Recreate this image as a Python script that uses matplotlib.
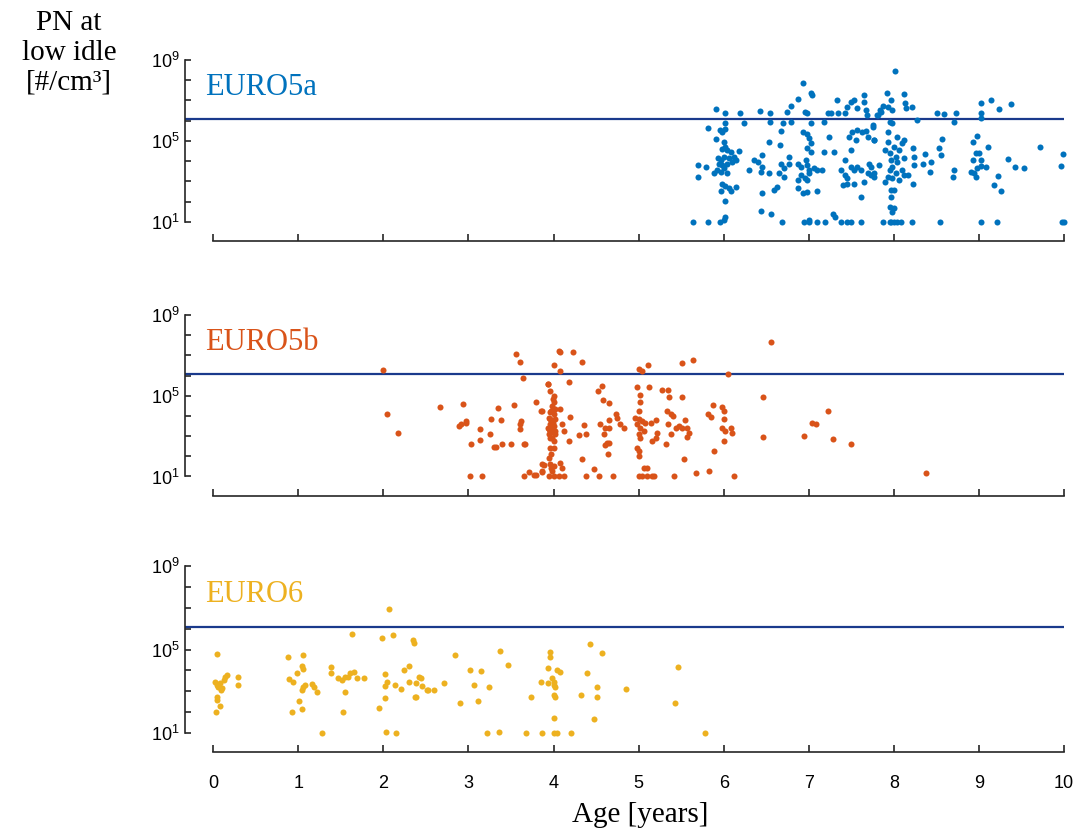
import matplotlib.pyplot as plt
import numpy as np
from matplotlib.ticker import FixedLocator, FuncFormatter, NullLocator

# (age [years], log10 of PN at low idle [#/cm3])
euro5a = [
    (5.64, 1.0), (5.81, 1.0), (5.96, 1.0), (6.0, 1.08), (6.02, 1.21), (6.69, 1.0),
    (6.94, 1.0), (7.0, 1.11), (7.0, 1.0), (7.1, 1.0), (7.19, 1.0), (7.28, 1.38),
    (7.31, 1.24), (7.38, 1.0), (7.45, 1.0), (7.5, 1.0), (7.61, 1.0), (6.44, 1.52),
    (6.56, 1.38), (5.91, 6.56), (6.02, 6.36), (6.02, 5.86), (5.82, 5.62), (5.95, 5.53),
    (5.98, 5.45), (6.02, 5.57), (6.0, 4.96), (6.02, 4.71), (5.98, 4.58), (6.04, 4.54),
    (6.08, 4.46), (6.18, 4.51), (5.93, 4.13), (5.97, 4.05), (6.0, 4.21), (6.06, 4.13),
    (6.12, 4.21), (6.14, 4.05), (5.94, 3.88), (5.98, 3.8), (6.04, 3.88), (6.1, 3.97),
    (5.92, 3.55), (5.97, 3.47), (6.0, 3.64), (6.04, 3.39), (5.89, 3.39), (5.7, 3.83),
    (5.79, 3.69), (5.7, 3.22), (5.98, 2.89), (6.02, 2.76), (6.06, 2.65), (6.14, 2.7),
    (5.97, 2.53), (6.08, 2.53), (6.02, 2.02), (6.19, 6.36), (6.24, 5.86), (6.42, 6.48),
    (6.54, 6.36), (6.54, 5.95), (6.53, 4.96), (6.66, 4.79), (6.67, 5.49), (6.7, 5.86),
    (6.74, 6.44), (6.79, 6.72), (6.79, 5.95), (6.87, 7.05), (6.93, 7.88), (7.02, 7.35),
    (7.04, 7.27), (6.95, 6.44), (6.98, 6.39), (7.02, 5.86), (6.93, 5.45), (6.98, 5.34),
    (7.0, 5.12), (7.02, 4.87), (6.98, 4.63), (7.02, 4.46), (6.36, 4.05), (6.4, 3.97),
    (6.45, 4.3), (6.45, 3.72), (6.53, 3.39), (6.44, 3.47), (6.3, 3.55), (6.77, 4.21),
    (6.77, 3.88), (6.67, 3.88), (6.71, 3.64), (6.71, 3.22), (6.65, 3.39), (6.87, 3.88),
    (6.91, 3.72), (6.97, 4.05), (6.98, 3.8), (7.0, 3.55), (6.91, 3.31), (6.95, 3.14),
    (6.98, 3.06), (6.87, 3.06), (7.0, 3.39), (7.06, 3.64), (7.1, 3.55), (7.16, 3.55),
    (6.87, 2.65), (6.93, 2.4), (6.98, 2.48), (7.1, 2.53), (6.45, 2.43), (6.59, 2.56),
    (6.63, 2.73), (7.18, 5.95), (7.22, 6.36), (7.26, 6.36), (7.34, 6.39), (7.33, 7.02),
    (7.42, 6.36), (7.45, 6.69), (7.49, 6.94), (7.53, 7.02), (7.57, 6.61), (7.65, 7.27),
    (7.65, 6.94), (7.67, 6.52), (7.68, 6.28), (7.81, 6.28), (7.84, 6.52), (7.24, 5.17),
    (7.3, 4.46), (7.18, 4.46), (7.47, 5.2), (7.51, 5.45), (7.57, 5.53), (7.63, 5.45),
    (7.67, 5.5), (7.69, 5.2), (7.77, 5.04), (7.75, 5.7), (7.55, 5.04), (7.49, 4.54),
    (7.42, 4.05), (7.38, 3.55), (7.42, 3.31), (7.45, 3.14), (7.49, 3.72), (7.53, 3.55),
    (7.57, 3.72), (7.61, 3.55), (7.45, 2.89), (7.53, 2.86), (7.65, 2.98), (7.69, 3.39),
    (7.73, 3.31), (7.77, 3.22), (7.83, 3.8), (7.71, 3.88), (7.4, 2.81), (7.61, 2.23),
    (5.91, 5.07), (8.01, 8.46), (7.92, 7.35), (8.12, 7.32), (7.87, 6.72), (7.93, 6.69),
    (7.96, 7.02), (7.98, 6.52), (7.85, 6.44), (7.8, 6.28), (8.13, 6.85), (8.14, 6.61),
    (8.21, 6.66), (8.51, 6.39), (8.59, 6.33), (8.73, 6.36), (8.7, 5.91), (8.27, 6.03),
    (7.75, 5.78), (7.77, 5.04), (7.93, 5.45), (7.95, 5.95), (7.98, 5.9), (7.93, 4.96),
    (7.89, 4.54), (7.95, 4.38), (8.0, 4.71), (8.02, 4.21), (8.06, 4.54), (8.1, 4.87),
    (8.12, 5.04), (8.04, 5.2), (7.96, 4.05), (8.04, 3.97), (8.12, 4.13), (7.98, 3.72),
    (7.95, 3.55), (8.02, 3.39), (8.1, 3.55), (7.93, 3.22), (7.98, 3.14), (8.06, 3.06),
    (8.12, 3.31), (8.16, 3.31), (7.89, 2.98), (7.96, 2.56), (8.0, 2.56), (7.96, 2.23),
    (7.95, 1.74), (8.0, 1.66), (7.98, 1.49), (8.24, 4.21), (8.22, 4.63), (8.24, 3.8),
    (8.34, 3.88), (8.36, 4.33), (8.43, 3.97), (8.57, 5.07), (8.53, 4.63), (8.55, 4.3),
    (8.42, 3.47), (8.22, 2.89), (7.73, 3.72), (7.77, 3.39), (8.69, 3.19), (8.71, 3.55),
    (8.91, 3.47), (8.94, 3.39), (8.96, 3.22), (8.98, 3.64), (8.93, 4.05), (8.96, 4.38),
    (9.0, 4.38), (9.02, 4.05), (8.98, 5.24), (8.93, 4.96), (9.02, 3.75), (9.08, 3.69),
    (9.02, 6.85), (9.02, 6.36), (9.02, 6.11), (9.14, 7.02), (9.24, 6.56), (9.38, 6.81),
    (9.1, 4.68), (9.34, 4.1), (9.42, 3.72), (9.53, 3.64), (9.22, 3.26), (9.17, 2.81),
    (9.26, 2.53), (9.72, 4.68), (9.99, 4.33), (9.96, 3.77), (7.87, 1.0), (7.95, 1.0),
    (7.97, 1.0), (8.0, 1.0), (8.04, 1.0), (8.08, 1.0), (8.21, 1.0), (8.54, 1.0),
    (9.02, 1.0), (9.21, 1.0), (9.98, 1.0), (10.0, 1.0),
]

euro5b = [
    (2.0, 6.28), (2.04, 4.12), (2.17, 3.13), (2.66, 4.45), (2.93, 4.58), (2.89, 3.5),
    (2.91, 3.6), (2.97, 3.75), (2.97, 3.65), (3.14, 3.37), (3.13, 2.83), (3.25, 3.08),
    (3.26, 3.87), (3.35, 4.37), (3.38, 3.78), (3.03, 2.62), (3.3, 2.45), (3.32, 2.45),
    (3.4, 2.62), (3.5, 2.62), (3.65, 2.62), (3.67, 2.62), (3.54, 4.55), (3.56, 7.08),
    (3.61, 6.67), (3.64, 5.88), (3.6, 3.35), (3.61, 3.6), (3.62, 3.75), (3.79, 4.67),
    (3.86, 4.22), (3.93, 5.58), (3.02, 1.0), (3.16, 1.0), (3.65, 1.0), (3.71, 1.2),
    (3.77, 1.05), (3.79, 1.05), (3.86, 1.2), (3.87, 1.6), (3.95, 3.35), (3.96, 2.9),
    (3.97, 2.1), (3.97, 1.4), (4.06, 7.22), (4.08, 7.17), (4.23, 7.17), (4.33, 6.67),
    (4.01, 6.5), (4.07, 6.22), (4.18, 5.7), (3.93, 5.58), (3.96, 5.22), (4.0, 5.0),
    (4.0, 4.67), (3.98, 4.5), (4.02, 4.33), (4.08, 4.33), (3.96, 4.17), (4.0, 4.08),
    (3.95, 3.92), (3.98, 3.75), (4.02, 3.83), (3.96, 3.58), (4.0, 3.5), (3.93, 3.42),
    (3.96, 3.25), (4.02, 3.25), (3.95, 3.08), (3.98, 2.92), (4.02, 3.08), (4.0, 2.75),
    (3.96, 2.42), (4.0, 2.42), (4.1, 3.58), (4.12, 3.25), (4.19, 3.95), (4.18, 2.75),
    (3.98, 3.42), (3.99, 3.67), (3.96, 3.83), (4.01, 3.17), (3.97, 4.25), (3.99, 4.83),
    (3.85, 4.25), (3.95, 1.92), (3.96, 1.62), (3.89, 1.58), (4.0, 1.5), (4.08, 1.67),
    (4.1, 1.42), (3.87, 1.25), (3.98, 1.25), (3.95, 1.0), (4.0, 1.0), (4.06, 1.0),
    (4.12, 1.0), (4.33, 1.87), (4.36, 3.55), (4.3, 3.05), (4.38, 3.08), (4.47, 1.35),
    (4.53, 1.0), (4.38, 1.0), (4.57, 5.5), (4.52, 5.22), (4.58, 4.78), (4.65, 4.62),
    (4.55, 3.58), (4.61, 3.42), (4.65, 3.42), (4.59, 3.08), (4.63, 2.67), (4.65, 2.67),
    (4.61, 2.58), (4.64, 2.12), (4.73, 4.08), (4.75, 3.92), (4.65, 3.78), (4.78, 3.58),
    (4.83, 3.42), (4.7, 1.0), (5.0, 6.33), (5.04, 6.25), (5.11, 6.5), (4.98, 5.42),
    (5.01, 5.05), (5.02, 4.67), (5.12, 5.42), (5.0, 4.25), (4.96, 3.92), (5.0, 3.83),
    (5.04, 3.75), (4.98, 3.58), (5.02, 3.42), (5.08, 3.67), (5.14, 3.67), (5.2, 3.78),
    (5.06, 3.25), (5.0, 3.08), (5.02, 2.92), (4.98, 2.42), (5.0, 2.25), (5.0, 2.0),
    (5.06, 1.42), (5.1, 1.4), (5.0, 1.0), (5.04, 1.0), (5.1, 1.0), (5.16, 1.0),
    (5.18, 1.0), (5.22, 3.17), (5.2, 2.92), (5.16, 2.75), (5.28, 5.28), (5.34, 5.28),
    (5.36, 4.95), (5.33, 4.25), (5.38, 4.12), (5.4, 4.0), (5.34, 3.62), (5.44, 3.42),
    (5.47, 3.5), (5.51, 3.42), (5.57, 3.42), (5.55, 3.78), (5.59, 3.17), (5.57, 2.95),
    (5.38, 3.08), (5.32, 2.62), (5.51, 4.92), (5.51, 6.62), (5.64, 6.75), (5.53, 1.88),
    (5.42, 1.0), (5.67, 1.17), (5.81, 4.08), (5.85, 3.95), (5.87, 4.55), (5.98, 4.42),
    (6.0, 4.25), (6.0, 3.83), (5.98, 3.42), (6.02, 3.25), (6.08, 3.42), (6.1, 3.17),
    (6.0, 2.75), (5.88, 2.28), (5.83, 1.28), (6.05, 6.08), (6.12, 1.0), (6.55, 7.67),
    (6.46, 4.95), (6.46, 2.95), (6.94, 3.02), (7.04, 3.67), (7.08, 3.62), (7.22, 4.22),
    (7.28, 2.87), (7.49, 2.62), (8.38, 1.17),
]

euro6 = [
    (2.07, 6.92), (1.63, 5.74), (1.98, 5.56), (2.11, 5.69), (2.35, 5.45), (2.36, 5.29),
    (0.04, 4.78), (0.88, 4.65), (1.05, 4.73), (1.04, 4.21), (1.05, 4.05), (0.98, 3.86),
    (0.89, 3.57), (0.94, 3.45), (1.05, 3.22), (1.08, 3.3), (1.16, 3.34), (1.19, 3.22),
    (1.22, 2.98), (1.04, 3.06), (1.01, 2.53), (1.04, 2.13), (0.93, 2.0), (1.28, 1.0),
    (0.02, 3.45), (0.04, 3.3), (0.06, 3.22), (0.08, 3.38), (0.1, 3.14), (0.14, 3.69),
    (0.16, 3.78), (0.13, 3.54), (0.09, 3.06), (0.04, 2.71), (0.05, 2.58), (0.08, 2.29),
    (0.03, 2.0), (0.29, 3.66), (0.29, 3.3), (1.39, 4.17), (1.39, 3.86), (1.47, 3.62),
    (1.51, 3.54), (1.55, 3.66), (1.59, 3.66), (1.61, 3.86), (1.66, 3.93), (1.69, 3.62),
    (1.77, 3.62), (1.55, 2.98), (1.53, 1.99), (2.02, 3.82), (2.04, 3.45), (2.02, 3.25),
    (2.14, 3.3), (2.21, 3.1), (2.3, 3.45), (2.24, 4.01), (2.3, 4.2), (2.02, 2.69),
    (1.95, 2.21), (2.03, 1.06), (2.15, 1.0), (2.37, 2.74), (2.42, 3.66), (2.44, 3.62),
    (2.38, 3.38), (2.45, 3.25), (2.38, 2.74), (2.51, 3.06), (2.53, 3.06), (2.6, 3.06),
    (2.71, 3.38), (2.84, 4.73), (3.02, 4.01), (3.15, 3.97), (3.06, 3.3), (3.24, 3.19),
    (2.9, 2.42), (3.11, 2.53), (3.37, 4.94), (3.47, 4.25), (3.22, 1.0), (3.36, 1.06),
    (3.68, 1.0), (3.86, 1.0), (4.0, 1.0), (4.04, 1.0), (4.21, 1.0), (3.96, 4.89),
    (3.96, 4.65), (3.93, 4.09), (4.04, 4.01), (4.08, 3.93), (3.85, 3.45), (3.93, 3.38),
    (3.98, 3.62), (4.0, 3.45), (4.01, 3.3), (4.02, 3.22), (4.0, 2.82), (4.02, 2.74),
    (4.01, 1.7), (3.74, 2.71), (4.32, 2.82), (4.39, 3.88), (4.43, 5.26), (4.57, 4.84),
    (4.51, 3.19), (4.51, 2.74), (4.47, 1.66), (4.85, 3.1), (5.46, 4.15), (5.43, 2.45),
    (5.78, 1.0),
]

series_names = ['EURO5a', 'EURO5b', 'EURO6']
series_colors = ['#0072BD', '#D95319', '#EDB120']
pn_limit = 1.2e6
age_ticks = list(range(11))
label_decades = (1, 5, 9)

SERIF = ['Liberation Serif', 'DejaVu Serif']
plt.rcParams['font.family'] = ['Liberation Sans', 'DejaVu Sans']

fig = plt.figure(figsize=(10.76, 8.32), dpi=100)
# axes rectangles [left, bottom, width, height] in figure fractions
rects = [[0.172, 0.7335, 0.817, 0.1944],
         [0.172, 0.4273, 0.817, 0.1941],
         [0.172, 0.119, 0.817, 0.2007]]


def decade_label(v, pos):
    k = int(round(np.log10(v)))
    return r'$\mathdefault{10^{%d}}$' % k if k in label_decades else ''


for i, (data, name, color) in enumerate(zip([euro5a, euro5b, euro6],
                                             series_names, series_colors)):
    ax = fig.add_axes(rects[i])
    age, lg = np.array(data).T
    ax.scatter(age, 10.0 ** lg, s=19, color=color, linewidths=0, clip_on=False, zorder=3)
    ax.axhline(pn_limit, color='#1a3a8c', lw=1.6, zorder=2)

    ax.set_yscale('log')
    ax.set_ylim(1e1, 1e9)
    ax.set_xlim(-0.33, 10)
    ax.yaxis.set_major_locator(FixedLocator([10.0 ** k for k in range(1, 10)]))
    ax.yaxis.set_minor_locator(NullLocator())
    ax.yaxis.set_major_formatter(FuncFormatter(decade_label))
    ax.set_xticks(age_ticks)
    if i < 2:
        ax.set_xticklabels([])

    for side in ('top', 'right'):
        ax.spines[side].set_visible(False)
    for side in ('left', 'bottom'):
        ax.spines[side].set_linewidth(1.2)
        ax.spines[side].set_color('#262626')
    ax.spines['bottom'].set_position(('outward', 14))
    ax.spines['bottom'].set_bounds(0, 10)
    ax.tick_params(axis='y', direction='in', length=4, width=1.2, color='#262626',
                   labelsize=13, pad=4)
    ax.tick_params(axis='x', direction='in', length=5, width=1.2, color='#262626',
                   labelsize=13, pad=16)
    ax.set_facecolor('none')

    ax.text(0.023, 0.83, name, transform=ax.transAxes, color=color,
            fontsize=22, family=SERIF, va='center', ha='left')

fig.text(0.064, 0.988, 'PN at\nlow idle\n[#/cm³]', ha='center', va='top',
         fontsize=21, family=SERIF, linespacing=1.2)
fig.text(0.595, 0.02, 'Age [years]', ha='center', va='center',
         fontsize=21, family=SERIF)

fig.savefig('out.png', dpi=100)
